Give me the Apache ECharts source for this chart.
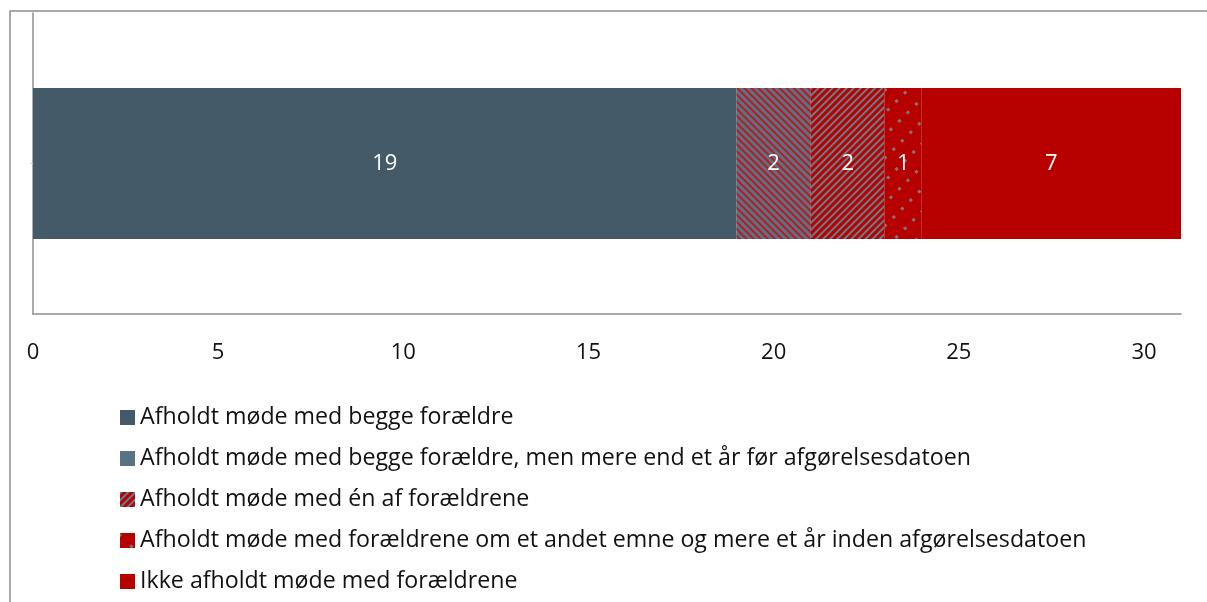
<!DOCTYPE html>
<html>
<head>
<meta charset="utf-8">
<script src="https://cdn.jsdelivr.net/npm/echarts@6/dist/echarts.min.js"></script>
<style>
  html, body { margin: 0; padding: 0; background: #fff; }
  #chart { width: 1207px; height: 602px; }
</style>
</head>
<body>
<div id="chart"></div>
<script>
  // data
  const categories = ['']
  const seriesNames = [
    'Afholdt møde med begge forældre',
    'Afholdt møde med begge forældre, men mere end et år før afgørelsesdatoen',
    'Afholdt møde med én af forældrene',
    'Afholdt møde med forældrene om et andet emne og mere et år inden afgørelsesdatoen',
    'Ikke afholdt møde med forældrene'
  ]
  const seriesValues = [[19], [2], [2], [1], [7]]
  const xTicks = [0, 5, 10, 15, 20, 25, 30]

  const font = 'Open Sans'
  const slate = '#445a69'
  const slate2 = '#577384'
  const red = '#b70000'

  const styles = [
    { color: slate },
    { color: slate2, decal: { symbol: 'rect', color: '#bd1820', dashArrayX: [1, 0], dashArrayY: [2, 3], rotation: Math.PI / 4 } },
    { color: red, decal: { symbol: 'rect', color: '#687c89', dashArrayX: [1, 0], dashArrayY: [2, 3], rotation: -Math.PI / 4 } },
    { color: red, decal: { symbol: 'rect', color: '#8a7078', symbolSize: 1, dashArrayX: [2.5, 13], dashArrayY: [2.5, 9], rotation: Math.PI / 4 } },
    { color: red }
  ]

  const chart = echarts.init(document.getElementById('chart'))

  const option = {
    animation: false,
    aria: { enabled: false },
    textStyle: { fontFamily: font },
    graphic: [{
      type: 'rect',
      silent: true,
      shape: { x: 10, y: 11, width: 1400, height: 800 },
      style: { fill: 'none', stroke: '#8e8e8e', lineWidth: 1.5 }
    }],
    grid: { left: 33, right: 26, top: 13, bottom: 288, containLabel: false },
    legend: {
      orient: 'vertical',
      left: 115,
      top: 401,
      icon: 'rect',
      itemWidth: 15,
      itemHeight: 15,
      itemGap: 18,
      textStyle: { fontFamily: font, fontSize: 23.2, lineHeight: 23, color: '#111' },
      data: seriesNames.map((name, i) => i === 1 ? { name, itemStyle: { decal: 'none' } } : { name })
    },
    xAxis: {
      type: 'value',
      min: 0,
      max: 31,
      interval: 5,
      axisLine: { show: true, lineStyle: { color: '#8e8e8e', width: 1.5 } },
      axisTick: { show: false },
      splitLine: { show: false },
      axisLabel: {
        showMaxLabel: false,
        margin: 28,
        fontSize: 22,
        color: '#111',
        formatter: v => xTicks.includes(v) ? String(v) : ''
      }
    },
    yAxis: {
      type: 'category',
      data: categories,
      axisLine: { show: true, lineStyle: { color: '#8e8e8e', width: 1.5 } },
      axisTick: { show: true, alignWithLabel: true, length: 3, lineStyle: { color: '#cfcfcf' } },
      axisLabel: { show: false }
    },
    series: seriesNames.map((name, i) => ({
      name,
      type: 'bar',
      stack: 'total',
      barWidth: 151,
      data: seriesValues[i],
      itemStyle: styles[i],
      label: {
        show: true,
        position: 'inside',
        color: '#fff',
        fontSize: 22,
        fontFamily: font
      }
    }))
  }

  chart.setOption(option)
</script>
</body>
</html>
